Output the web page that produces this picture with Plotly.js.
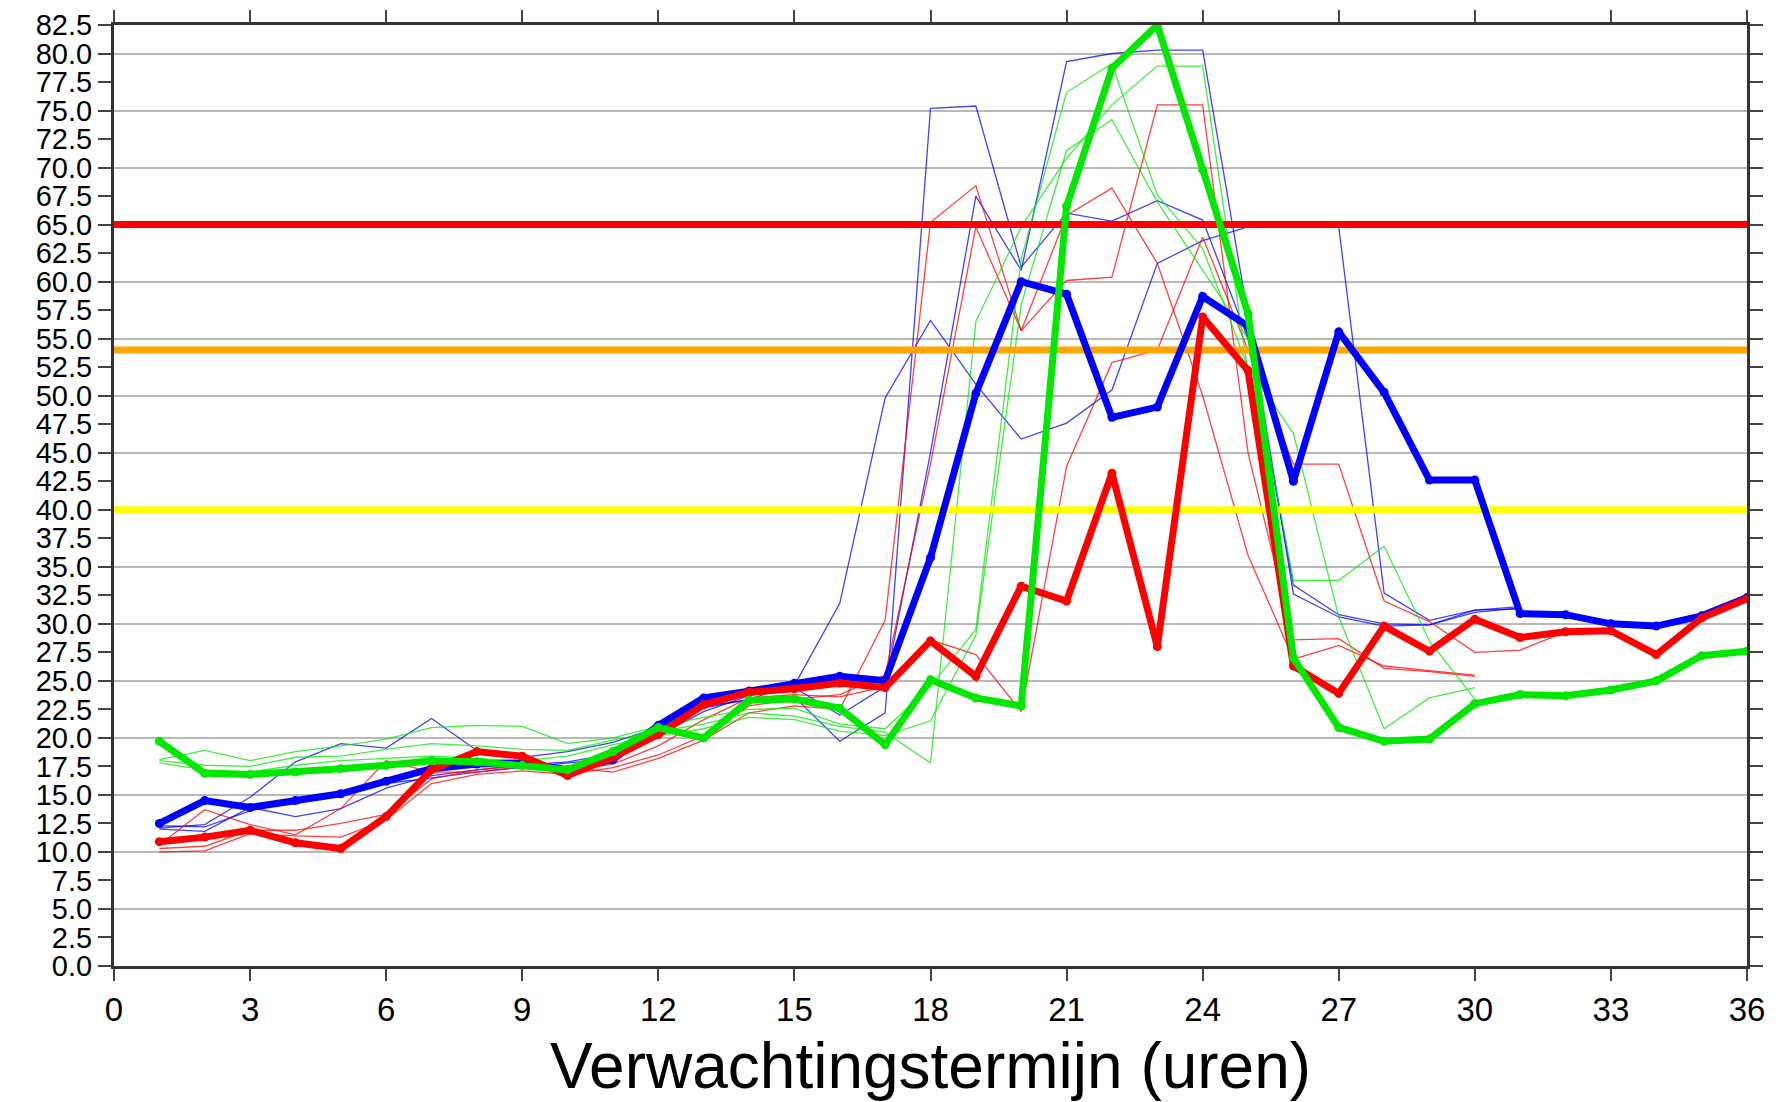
<!DOCTYPE html>
<html>
<head>
<meta charset="utf-8">
<script src="https://cdn.plot.ly/plotly-3.0.1.min.js"></script>
<style>html,body{margin:0;padding:0;background:#fff;}#chart{width:1787px;height:1102px;}</style>
</head>
<body>
<div id="chart"></div>
<script>
// forecast lead time (hours)
const hours = [1,2,3,4,5,6,7,8,9,10,11,12,13,14,15,16,17,18,19,20,21,22,23,24,25,26,27,28,29,30,31,32,33,34,35,36];

// thick (latest) series
const blueMain  = [12.5,14.5,13.9,14.5,15.1,16.2,17.3,17.7,17.8,17.2,18.1,21.1,23.5,24.1,24.8,25.4,25.0,35.8,50.2,60.0,58.9,48.1,49.0,58.7,56.1,42.5,55.6,50.3,42.6,42.6,30.9,30.8,30.0,29.8,30.7,32.3];
const redMain   = [10.9,11.3,11.9,10.8,10.3,13.1,17.2,18.8,18.4,16.7,18.3,20.3,22.9,24.0,24.3,24.8,24.4,28.5,25.4,33.3,32.0,43.2,28.0,56.9,52.2,26.3,23.9,29.8,27.6,30.4,28.8,29.3,29.4,27.3,30.5,32.2];
const greenMain = [19.7,16.9,16.8,17.0,17.3,17.6,18.0,17.9,17.6,17.2,18.8,20.9,20.0,23.3,23.4,22.6,19.4,25.1,23.5,22.8,66.6,78.7,82.5,69.8,57.2,27.0,20.9,19.7,19.9,23.0,23.8,23.7,24.2,25.0,27.2,27.6];

// thin (earlier) series
const blueThin1 = [12.1,12.4,14.8,17.9,19.5,19.1,21.7,18.9,18.3,18.8,19.6,20.9,22.6,23.4,24.6,31.8,49.8,56.6,51.0,46.2,47.6,50.5,61.6,63.6,64.8,65.0,64.8,32.7,30.3,31.2,31.5,null,null,null,null,null];
const blueThin2 = [12.0,11.8,13.9,13.1,13.8,15.6,16.7,17.2,17.6,17.9,18.6,20.4,22.8,23.3,23.6,19.7,22.2,75.2,75.4,61.3,66.0,65.3,67.1,65.4,55.0,33.4,30.8,30.0,29.9,31.0,31.4,null,null,null,null,null];
const blueThin3 = [12.3,12.2,13.6,14.6,15.0,16.0,16.5,17.0,17.4,17.8,18.2,20.2,22.3,23.7,24.4,22.0,24.5,45.0,67.5,61.0,79.3,80.0,80.3,80.3,57.0,32.6,30.6,29.8,29.9,31.2,31.3,null,null,null,null,null];

const redThin1 = [10.6,13.7,12.4,11.5,13.8,18.0,17.0,17.0,17.5,17.4,17.0,18.2,19.8,22.2,22.8,22.5,30.3,65.2,68.4,55.7,60.1,60.4,75.5,75.5,45.0,28.6,28.7,26.1,25.8,25.4,null,null,null,null,null,null];
const redThin2 = [10.0,10.1,11.6,11.4,11.3,12.8,16.0,16.8,17.1,16.8,17.4,18.5,20.2,22.8,23.4,23.8,25.5,44.0,64.8,55.7,65.8,68.2,61.6,50.0,36.0,26.9,28.1,26.3,25.9,25.5,null,null,null,null,null,null];
const redThin3 = [10.3,10.5,11.9,11.9,12.5,13.3,16.4,17.2,17.6,17.1,17.7,19.3,21.6,23.5,23.8,23.6,24.5,28.6,27.3,22.3,43.8,52.9,54.0,63.9,54.0,44.0,44.0,32.0,30.2,27.5,27.7,29.3,29.4,null,null,null];

const greenThin1 = [18.1,18.9,18.0,18.8,19.3,19.9,20.9,21.1,21.0,19.5,20.0,21.0,21.8,22.5,22.6,21.2,20.8,24.5,29.5,62.0,76.6,79.1,67.6,62.9,52.5,46.7,30.6,20.8,23.5,24.4,null,null,null,null,null,null];
const greenThin2 = [18.0,17.6,17.5,18.3,18.4,19.0,19.5,19.3,19.0,18.9,19.8,20.6,21.2,22.2,21.9,21.0,20.5,17.8,56.5,64.8,70.8,75.5,78.9,78.9,52.0,27.5,21.2,19.9,20.1,23.0,null,null,null,null,null,null];
const greenThin3 = [17.8,17.2,17.0,17.6,18.0,18.2,18.4,18.2,18.0,18.4,19.4,20.2,20.8,21.8,21.6,20.6,20.2,21.5,29.0,58.0,71.5,74.2,67.0,61.0,55.0,33.8,33.8,36.8,28.5,23.4,null,null,null,null,null,null];

// warning thresholds
const thresholdX = [0, 36];
const thresholdLevels = [40, 54, 65];
const thresholdColors = ['#ffff00', '#ffa500', '#ff0000'];

// axis ticks
const xTicks = [0,3,6,9,12,15,18,21,24,27,30,33,36];
const yTicks = [0,2.5,5,7.5,10,12.5,15,17.5,20,22.5,25,27.5,30,32.5,35,37.5,40,42.5,45,47.5,50,52.5,55,57.5,60,62.5,65,67.5,70,72.5,75,77.5,80,82.5];
const yTickText = yTicks.map(v => v.toFixed(1));
const yGrid = [0,5,10,15,20,25,30,35,40,45,50,55,60,65,70,75,80];

const BLUE = '#0000ff', RED = '#ff0000', GREEN = '#00e800';

function thin(y, c) {
  return {x: hours, y: y, type: 'scatter', mode: 'lines', line: {color: c, width: 1.3}, opacity: 0.75, hoverinfo: 'skip', showlegend: false};
}
function thick(y, c) {
  return {x: hours, y: y, type: 'scatter', mode: 'lines+markers', line: {color: c, width: 7}, marker: {color: c, size: 9}, showlegend: false};
}

const traces = [
  thin(blueThin1, BLUE), thin(blueThin2, BLUE), thin(blueThin3, BLUE),
  thin(redThin1, RED), thin(redThin2, RED), thin(redThin3, RED),
  thin(greenThin1, GREEN), thin(greenThin2, GREEN), thin(greenThin3, GREEN)
];
thresholdLevels.forEach((lv, i) => {
  traces.push({x: thresholdX, y: [lv, lv], type: 'scatter', mode: 'lines', line: {color: thresholdColors[i], width: 7}, hoverinfo: 'skip', showlegend: false});
});
traces.push(thick(blueMain, BLUE), thick(redMain, RED), thick(greenMain, GREEN));

// invisible trace to activate grid axis
traces.push({x: [0], y: [0], yaxis: 'y2', type: 'scatter', mode: 'markers', marker: {opacity: 0}, hoverinfo: 'skip', showlegend: false});

const font = 'Liberation Sans, Arial, Helvetica, sans-serif';
const layout = {
  width: 1787, height: 1102,
  margin: {l: 114, r: 40, t: 25, b: 136},
  paper_bgcolor: '#fff', plot_bgcolor: '#fff',
  showlegend: false,
  xaxis: {
    range: [0, 36], tickvals: xTicks, ticktext: xTicks.map(String),
    ticks: 'outside', ticklen: 12, tickwidth: 2, tickcolor: '#444',
    showline: true, linewidth: 3, linecolor: '#333', mirror: 'ticks',
    showgrid: false, zeroline: false,
    tickfont: {family: font, size: 33, color: '#000'},
    title: {text: 'Verwachtingstermijn (uren)', font: {family: font, size: 64, color: '#000'}, standoff: 18},
    automargin: false
  },
  yaxis: {
    range: [0, 82.5], tickvals: yTicks, ticktext: yTickText,
    ticks: 'outside', ticklen: 13, tickwidth: 2, tickcolor: '#444',
    showline: true, linewidth: 3, linecolor: '#333', mirror: 'ticks',
    showgrid: false, zeroline: false,
    tickfont: {family: font, size: 29, color: '#000'},
    automargin: false
  },
  yaxis2: {
    overlaying: 'y', range: [0, 82.5], tickvals: yGrid,
    showticklabels: false, ticks: '', showline: false, zeroline: false,
    showgrid: true, gridcolor: '#b8b8b8', gridwidth: 2
  }
};

Plotly.newPlot('chart', traces, layout, {displayModeBar: false, staticPlot: true});
</script>
</body>
</html>
